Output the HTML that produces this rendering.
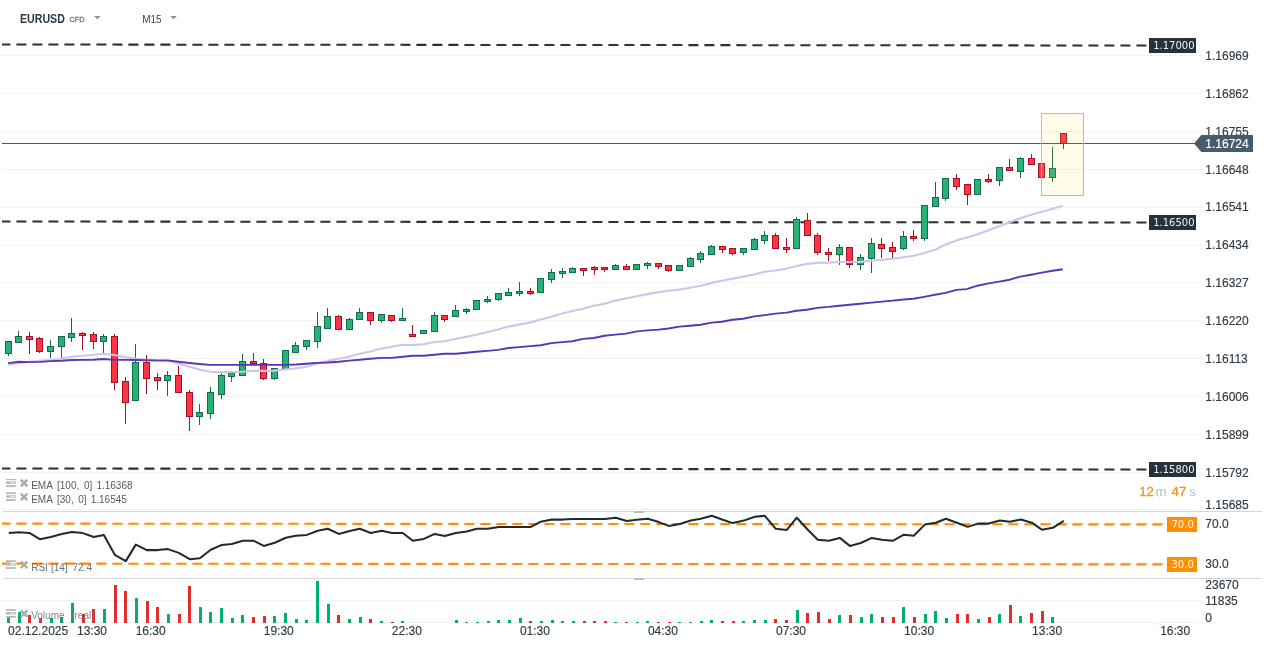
<!DOCTYPE html>
<html><head><meta charset="utf-8"><title>EURUSD M15</title>
<style>html,body{margin:0;padding:0;background:#fff;overflow:hidden}svg{display:block;will-change:transform;opacity:0.999}</style></head>
<body>
<svg width="1264" height="647" viewBox="0 0 1264 647" font-family="'Liberation Sans', Arial, sans-serif">
<rect width="1264" height="647" fill="#fff"/>
<g shape-rendering="crispEdges" fill="#f0f2f4">
<rect x="2" y="55" width="1201" height="1"/>
<rect x="2" y="93" width="1201" height="1"/>
<rect x="2" y="131" width="1201" height="1"/>
<rect x="2" y="169" width="1201" height="1"/>
<rect x="2" y="207" width="1201" height="1"/>
<rect x="2" y="245" width="1201" height="1"/>
<rect x="2" y="282" width="1201" height="1"/>
<rect x="2" y="320" width="1201" height="1"/>
<rect x="2" y="358" width="1201" height="1"/>
<rect x="2" y="396" width="1201" height="1"/>
<rect x="2" y="434" width="1201" height="1"/>
<rect x="2" y="472" width="1201" height="1"/>
<rect x="2" y="509" width="1195" height="1"/>
<rect x="2" y="523" width="1201" height="1"/>
<rect x="2" y="563" width="1201" height="1"/>
<rect x="2" y="600" width="1201" height="1"/>
<rect x="2" y="622" width="1195" height="1"/>
</g>
<g shape-rendering="crispEdges" fill="#d4d6d8">
<rect x="3" y="511" width="1259" height="1"/>
<rect x="3" y="578" width="1259" height="1"/>
</g>
<rect x="634" y="511" width="10" height="2" fill="#bdbdbd"/>
<rect x="634" y="578" width="10" height="2" fill="#bdbdbd"/>
<clipPath id="cp"><rect x="2" y="0" width="1201" height="647"/></clipPath>
<g clip-path="url(#cp)">
<line x1="0.4" y1="44.5" x2="1147" y2="45.5" stroke="#25323b" stroke-width="2.05" stroke-dasharray="10 6"/>
<line x1="0.4" y1="221.5" x2="1147" y2="222.5" stroke="#25323b" stroke-width="2.05" stroke-dasharray="10 6"/>
<line x1="0.4" y1="468.5" x2="1147" y2="469.5" stroke="#25323b" stroke-width="2.05" stroke-dasharray="10 6"/>
</g>
<rect x="2" y="143" width="1200" height="1" fill="#425766" shape-rendering="crispEdges"/>
<g shape-rendering="crispEdges">
<rect x="8.0" y="354" width="1" height="2" fill="#146d49"/>
<rect x="5.0" y="341" width="7" height="13" fill="#146d49"/>
<rect x="6.0" y="342" width="5" height="11" fill="#28b176"/>
<rect x="18.0" y="331" width="1" height="5" fill="#146d49"/>
<rect x="15.0" y="336" width="7" height="7" fill="#146d49"/>
<rect x="16.0" y="337" width="5" height="5" fill="#28b176"/>
<rect x="29.0" y="332" width="1" height="4" fill="#a51224"/>
<rect x="29.0" y="340" width="1" height="14" fill="#a51224"/>
<rect x="26.0" y="336" width="7" height="4" fill="#a51224"/>
<rect x="27.0" y="337" width="5" height="2" fill="#ff3347"/>
<rect x="39.0" y="337" width="1" height="1" fill="#a51224"/>
<rect x="39.0" y="352" width="1" height="1" fill="#a51224"/>
<rect x="36.0" y="338" width="7" height="14" fill="#a51224"/>
<rect x="37.0" y="339" width="5" height="12" fill="#ff3347"/>
<rect x="50.0" y="340" width="1" height="6" fill="#146d49"/>
<rect x="50.0" y="352" width="1" height="6" fill="#146d49"/>
<rect x="47.0" y="346" width="7" height="6" fill="#146d49"/>
<rect x="48.0" y="347" width="5" height="4" fill="#28b176"/>
<rect x="61.0" y="347" width="1" height="11" fill="#146d49"/>
<rect x="58.0" y="336" width="7" height="11" fill="#146d49"/>
<rect x="59.0" y="337" width="5" height="9" fill="#28b176"/>
<rect x="71.0" y="318" width="1" height="15" fill="#146d49"/>
<rect x="71.0" y="338" width="1" height="4" fill="#146d49"/>
<rect x="68.0" y="333" width="7" height="5" fill="#146d49"/>
<rect x="69.0" y="334" width="5" height="3" fill="#28b176"/>
<rect x="82.0" y="332" width="1" height="1" fill="#a51224"/>
<rect x="82.0" y="336" width="1" height="14" fill="#a51224"/>
<rect x="79.0" y="333" width="7" height="3" fill="#a51224"/>
<rect x="80.0" y="334" width="5" height="1" fill="#ff3347"/>
<rect x="93.0" y="332" width="1" height="2" fill="#a51224"/>
<rect x="93.0" y="342" width="1" height="7" fill="#a51224"/>
<rect x="90.0" y="334" width="7" height="8" fill="#a51224"/>
<rect x="91.0" y="335" width="5" height="6" fill="#ff3347"/>
<rect x="103.0" y="334" width="1" height="2" fill="#146d49"/>
<rect x="103.0" y="342" width="1" height="11" fill="#146d49"/>
<rect x="100.0" y="336" width="7" height="6" fill="#146d49"/>
<rect x="101.0" y="337" width="5" height="4" fill="#28b176"/>
<rect x="114.0" y="334" width="1" height="2" fill="#a51224"/>
<rect x="114.0" y="383" width="1" height="7" fill="#a51224"/>
<rect x="111.0" y="336" width="7" height="47" fill="#a51224"/>
<rect x="112.0" y="337" width="5" height="45" fill="#ff3347"/>
<rect x="125.0" y="377" width="1" height="4" fill="#a51224"/>
<rect x="125.0" y="403" width="1" height="21" fill="#a51224"/>
<rect x="122.0" y="381" width="7" height="22" fill="#a51224"/>
<rect x="123.0" y="382" width="5" height="20" fill="#ff3347"/>
<rect x="135.0" y="344" width="1" height="18" fill="#146d49"/>
<rect x="132.0" y="362" width="7" height="39" fill="#146d49"/>
<rect x="133.0" y="363" width="5" height="37" fill="#28b176"/>
<rect x="146.0" y="355" width="1" height="7" fill="#a51224"/>
<rect x="146.0" y="379" width="1" height="15" fill="#a51224"/>
<rect x="143.0" y="362" width="7" height="17" fill="#a51224"/>
<rect x="144.0" y="363" width="5" height="15" fill="#ff3347"/>
<rect x="157.0" y="373" width="1" height="4" fill="#a51224"/>
<rect x="157.0" y="381" width="1" height="9" fill="#a51224"/>
<rect x="154.0" y="377" width="7" height="4" fill="#a51224"/>
<rect x="155.0" y="378" width="5" height="2" fill="#ff3347"/>
<rect x="167.0" y="371" width="1" height="4" fill="#146d49"/>
<rect x="167.0" y="381" width="1" height="15" fill="#146d49"/>
<rect x="164.0" y="375" width="7" height="6" fill="#146d49"/>
<rect x="165.0" y="376" width="5" height="4" fill="#28b176"/>
<rect x="178.0" y="366" width="1" height="9" fill="#a51224"/>
<rect x="175.0" y="375" width="7" height="18" fill="#a51224"/>
<rect x="176.0" y="376" width="5" height="16" fill="#ff3347"/>
<rect x="189.0" y="390" width="1" height="2" fill="#a51224"/>
<rect x="189.0" y="417" width="1" height="14" fill="#a51224"/>
<rect x="186.0" y="392" width="7" height="25" fill="#a51224"/>
<rect x="187.0" y="393" width="5" height="23" fill="#ff3347"/>
<rect x="199.0" y="404" width="1" height="8" fill="#146d49"/>
<rect x="199.0" y="417" width="1" height="8" fill="#146d49"/>
<rect x="196.0" y="412" width="7" height="5" fill="#146d49"/>
<rect x="197.0" y="413" width="5" height="3" fill="#28b176"/>
<rect x="210.0" y="387" width="1" height="5" fill="#146d49"/>
<rect x="210.0" y="414" width="1" height="5" fill="#146d49"/>
<rect x="207.0" y="392" width="7" height="22" fill="#146d49"/>
<rect x="208.0" y="393" width="5" height="20" fill="#28b176"/>
<rect x="221.0" y="373" width="1" height="2" fill="#146d49"/>
<rect x="221.0" y="395" width="1" height="4" fill="#146d49"/>
<rect x="218.0" y="375" width="7" height="20" fill="#146d49"/>
<rect x="219.0" y="376" width="5" height="18" fill="#28b176"/>
<rect x="231.0" y="377" width="1" height="5" fill="#146d49"/>
<rect x="228.0" y="373" width="7" height="4" fill="#146d49"/>
<rect x="229.0" y="374" width="5" height="2" fill="#28b176"/>
<rect x="242.0" y="354" width="1" height="7" fill="#146d49"/>
<rect x="239.0" y="361" width="7" height="15" fill="#146d49"/>
<rect x="240.0" y="362" width="5" height="13" fill="#28b176"/>
<rect x="253.0" y="353" width="1" height="8" fill="#a51224"/>
<rect x="250.0" y="361" width="7" height="3" fill="#a51224"/>
<rect x="251.0" y="362" width="5" height="1" fill="#ff3347"/>
<rect x="263.0" y="359" width="1" height="4" fill="#a51224"/>
<rect x="263.0" y="379" width="1" height="1" fill="#a51224"/>
<rect x="260.0" y="363" width="7" height="16" fill="#a51224"/>
<rect x="261.0" y="364" width="5" height="14" fill="#ff3347"/>
<rect x="274.0" y="379" width="1" height="1" fill="#146d49"/>
<rect x="271.0" y="368" width="7" height="11" fill="#146d49"/>
<rect x="272.0" y="369" width="5" height="9" fill="#28b176"/>
<rect x="282.0" y="350" width="7" height="19" fill="#146d49"/>
<rect x="283.0" y="351" width="5" height="17" fill="#28b176"/>
<rect x="295.0" y="342" width="1" height="3" fill="#146d49"/>
<rect x="292.0" y="345" width="7" height="8" fill="#146d49"/>
<rect x="293.0" y="346" width="5" height="6" fill="#28b176"/>
<rect x="306.0" y="347" width="1" height="3" fill="#146d49"/>
<rect x="303.0" y="340" width="7" height="7" fill="#146d49"/>
<rect x="304.0" y="341" width="5" height="5" fill="#28b176"/>
<rect x="317.0" y="312" width="1" height="14" fill="#146d49"/>
<rect x="317.0" y="342" width="1" height="6" fill="#146d49"/>
<rect x="314.0" y="326" width="7" height="16" fill="#146d49"/>
<rect x="315.0" y="327" width="5" height="14" fill="#28b176"/>
<rect x="327.0" y="308" width="1" height="8" fill="#146d49"/>
<rect x="324.0" y="316" width="7" height="13" fill="#146d49"/>
<rect x="325.0" y="317" width="5" height="11" fill="#28b176"/>
<rect x="338.0" y="315" width="1" height="1" fill="#a51224"/>
<rect x="335.0" y="316" width="7" height="14" fill="#a51224"/>
<rect x="336.0" y="317" width="5" height="12" fill="#ff3347"/>
<rect x="349.0" y="318" width="1" height="1" fill="#146d49"/>
<rect x="346.0" y="319" width="7" height="11" fill="#146d49"/>
<rect x="347.0" y="320" width="5" height="9" fill="#28b176"/>
<rect x="359.0" y="308" width="1" height="4" fill="#146d49"/>
<rect x="356.0" y="312" width="7" height="8" fill="#146d49"/>
<rect x="357.0" y="313" width="5" height="6" fill="#28b176"/>
<rect x="370.0" y="321" width="1" height="4" fill="#a51224"/>
<rect x="367.0" y="312" width="7" height="9" fill="#a51224"/>
<rect x="368.0" y="313" width="5" height="7" fill="#ff3347"/>
<rect x="381.0" y="321" width="1" height="2" fill="#146d49"/>
<rect x="378.0" y="314" width="7" height="7" fill="#146d49"/>
<rect x="379.0" y="315" width="5" height="5" fill="#28b176"/>
<rect x="391.0" y="321" width="1" height="1" fill="#a51224"/>
<rect x="388.0" y="315" width="7" height="6" fill="#a51224"/>
<rect x="389.0" y="316" width="5" height="4" fill="#ff3347"/>
<rect x="402.0" y="308" width="1" height="10" fill="#146d49"/>
<rect x="399.0" y="318" width="7" height="3" fill="#146d49"/>
<rect x="400.0" y="319" width="5" height="1" fill="#28b176"/>
<rect x="412.0" y="325" width="1" height="9" fill="#a51224"/>
<rect x="409.0" y="334" width="7" height="3" fill="#a51224"/>
<rect x="410.0" y="335" width="5" height="1" fill="#ff3347"/>
<rect x="420.0" y="330" width="7" height="4" fill="#146d49"/>
<rect x="421.0" y="331" width="5" height="2" fill="#28b176"/>
<rect x="434.0" y="312" width="1" height="3" fill="#146d49"/>
<rect x="431.0" y="315" width="7" height="17" fill="#146d49"/>
<rect x="432.0" y="316" width="5" height="15" fill="#28b176"/>
<rect x="444.0" y="320" width="1" height="2" fill="#a51224"/>
<rect x="441.0" y="315" width="7" height="5" fill="#a51224"/>
<rect x="442.0" y="316" width="5" height="3" fill="#ff3347"/>
<rect x="455.0" y="305" width="1" height="5" fill="#146d49"/>
<rect x="452.0" y="310" width="7" height="7" fill="#146d49"/>
<rect x="453.0" y="311" width="5" height="5" fill="#28b176"/>
<rect x="466.0" y="308" width="1" height="1" fill="#146d49"/>
<rect x="466.0" y="312" width="1" height="2" fill="#146d49"/>
<rect x="463.0" y="309" width="7" height="3" fill="#146d49"/>
<rect x="464.0" y="310" width="5" height="1" fill="#28b176"/>
<rect x="473.0" y="300" width="7" height="10" fill="#146d49"/>
<rect x="474.0" y="301" width="5" height="8" fill="#28b176"/>
<rect x="487.0" y="296" width="1" height="3" fill="#146d49"/>
<rect x="487.0" y="302" width="1" height="1" fill="#146d49"/>
<rect x="484.0" y="299" width="7" height="3" fill="#146d49"/>
<rect x="485.0" y="300" width="5" height="1" fill="#28b176"/>
<rect x="498.0" y="300" width="1" height="1" fill="#146d49"/>
<rect x="495.0" y="293" width="7" height="7" fill="#146d49"/>
<rect x="496.0" y="294" width="5" height="5" fill="#28b176"/>
<rect x="508.0" y="288" width="1" height="4" fill="#146d49"/>
<rect x="505.0" y="292" width="7" height="4" fill="#146d49"/>
<rect x="506.0" y="293" width="5" height="2" fill="#28b176"/>
<rect x="519.0" y="282" width="1" height="9" fill="#146d49"/>
<rect x="519.0" y="294" width="1" height="2" fill="#146d49"/>
<rect x="516.0" y="291" width="7" height="3" fill="#146d49"/>
<rect x="517.0" y="292" width="5" height="1" fill="#28b176"/>
<rect x="530.0" y="288" width="1" height="3" fill="#a51224"/>
<rect x="530.0" y="294" width="1" height="1" fill="#a51224"/>
<rect x="527.0" y="291" width="7" height="3" fill="#a51224"/>
<rect x="528.0" y="292" width="5" height="1" fill="#ff3347"/>
<rect x="537.0" y="278" width="7" height="15" fill="#146d49"/>
<rect x="538.0" y="279" width="5" height="13" fill="#28b176"/>
<rect x="551.0" y="269" width="1" height="3" fill="#146d49"/>
<rect x="551.0" y="280" width="1" height="3" fill="#146d49"/>
<rect x="548.0" y="272" width="7" height="8" fill="#146d49"/>
<rect x="549.0" y="273" width="5" height="6" fill="#28b176"/>
<rect x="562.0" y="268" width="1" height="3" fill="#146d49"/>
<rect x="562.0" y="274" width="1" height="4" fill="#146d49"/>
<rect x="559.0" y="271" width="7" height="3" fill="#146d49"/>
<rect x="560.0" y="272" width="5" height="1" fill="#28b176"/>
<rect x="572.0" y="267" width="1" height="1" fill="#146d49"/>
<rect x="569.0" y="268" width="7" height="5" fill="#146d49"/>
<rect x="570.0" y="269" width="5" height="3" fill="#28b176"/>
<rect x="583.0" y="271" width="1" height="5" fill="#a51224"/>
<rect x="580.0" y="268" width="7" height="3" fill="#a51224"/>
<rect x="581.0" y="269" width="5" height="1" fill="#ff3347"/>
<rect x="594.0" y="266" width="1" height="1" fill="#a51224"/>
<rect x="594.0" y="270" width="1" height="5" fill="#a51224"/>
<rect x="591.0" y="267" width="7" height="3" fill="#a51224"/>
<rect x="592.0" y="268" width="5" height="1" fill="#ff3347"/>
<rect x="604.0" y="270" width="1" height="2" fill="#a51224"/>
<rect x="601.0" y="267" width="7" height="3" fill="#a51224"/>
<rect x="602.0" y="268" width="5" height="1" fill="#ff3347"/>
<rect x="615.0" y="264" width="1" height="1" fill="#146d49"/>
<rect x="612.0" y="265" width="7" height="5" fill="#146d49"/>
<rect x="613.0" y="266" width="5" height="3" fill="#28b176"/>
<rect x="626.0" y="264" width="1" height="2" fill="#a51224"/>
<rect x="623.0" y="266" width="7" height="4" fill="#a51224"/>
<rect x="624.0" y="267" width="5" height="2" fill="#ff3347"/>
<rect x="633.0" y="264" width="7" height="6" fill="#146d49"/>
<rect x="634.0" y="265" width="5" height="4" fill="#28b176"/>
<rect x="647.0" y="262" width="1" height="1" fill="#146d49"/>
<rect x="647.0" y="266" width="1" height="3" fill="#146d49"/>
<rect x="644.0" y="263" width="7" height="3" fill="#146d49"/>
<rect x="645.0" y="264" width="5" height="1" fill="#28b176"/>
<rect x="658.0" y="267" width="1" height="2" fill="#a51224"/>
<rect x="655.0" y="263" width="7" height="4" fill="#a51224"/>
<rect x="656.0" y="264" width="5" height="2" fill="#ff3347"/>
<rect x="668.0" y="271" width="1" height="1" fill="#a51224"/>
<rect x="665.0" y="265" width="7" height="6" fill="#a51224"/>
<rect x="666.0" y="266" width="5" height="4" fill="#ff3347"/>
<rect x="676.0" y="265" width="7" height="6" fill="#146d49"/>
<rect x="677.0" y="266" width="5" height="4" fill="#28b176"/>
<rect x="690.0" y="257" width="1" height="1" fill="#146d49"/>
<rect x="687.0" y="258" width="7" height="9" fill="#146d49"/>
<rect x="688.0" y="259" width="5" height="7" fill="#28b176"/>
<rect x="700.0" y="251" width="1" height="2" fill="#146d49"/>
<rect x="700.0" y="260" width="1" height="3" fill="#146d49"/>
<rect x="697.0" y="253" width="7" height="7" fill="#146d49"/>
<rect x="698.0" y="254" width="5" height="5" fill="#28b176"/>
<rect x="711.0" y="245" width="1" height="1" fill="#146d49"/>
<rect x="708.0" y="246" width="7" height="9" fill="#146d49"/>
<rect x="709.0" y="247" width="5" height="7" fill="#28b176"/>
<rect x="722.0" y="250" width="1" height="3" fill="#a51224"/>
<rect x="719.0" y="246" width="7" height="4" fill="#a51224"/>
<rect x="720.0" y="247" width="5" height="2" fill="#ff3347"/>
<rect x="732.0" y="254" width="1" height="1" fill="#a51224"/>
<rect x="729.0" y="248" width="7" height="6" fill="#a51224"/>
<rect x="730.0" y="249" width="5" height="4" fill="#ff3347"/>
<rect x="743.0" y="253" width="1" height="2" fill="#146d49"/>
<rect x="740.0" y="248" width="7" height="5" fill="#146d49"/>
<rect x="741.0" y="249" width="5" height="3" fill="#28b176"/>
<rect x="754.0" y="238" width="1" height="1" fill="#146d49"/>
<rect x="751.0" y="239" width="7" height="11" fill="#146d49"/>
<rect x="752.0" y="240" width="5" height="9" fill="#28b176"/>
<rect x="764.0" y="231" width="1" height="4" fill="#146d49"/>
<rect x="764.0" y="241" width="1" height="3" fill="#146d49"/>
<rect x="761.0" y="235" width="7" height="6" fill="#146d49"/>
<rect x="762.0" y="236" width="5" height="4" fill="#28b176"/>
<rect x="775.0" y="233" width="1" height="2" fill="#a51224"/>
<rect x="772.0" y="235" width="7" height="14" fill="#a51224"/>
<rect x="773.0" y="236" width="5" height="12" fill="#ff3347"/>
<rect x="786.0" y="238" width="1" height="9" fill="#a51224"/>
<rect x="786.0" y="250" width="1" height="3" fill="#a51224"/>
<rect x="783.0" y="247" width="7" height="3" fill="#a51224"/>
<rect x="784.0" y="248" width="5" height="1" fill="#ff3347"/>
<rect x="796.0" y="217" width="1" height="2" fill="#146d49"/>
<rect x="793.0" y="219" width="7" height="30" fill="#146d49"/>
<rect x="794.0" y="220" width="5" height="28" fill="#28b176"/>
<rect x="807.0" y="213" width="1" height="7" fill="#a51224"/>
<rect x="804.0" y="220" width="7" height="16" fill="#a51224"/>
<rect x="805.0" y="221" width="5" height="14" fill="#ff3347"/>
<rect x="817.0" y="233" width="1" height="2" fill="#a51224"/>
<rect x="817.0" y="253" width="1" height="2" fill="#a51224"/>
<rect x="814.0" y="235" width="7" height="18" fill="#a51224"/>
<rect x="815.0" y="236" width="5" height="16" fill="#ff3347"/>
<rect x="828.0" y="248" width="1" height="4" fill="#a51224"/>
<rect x="828.0" y="255" width="1" height="6" fill="#a51224"/>
<rect x="825.0" y="252" width="7" height="3" fill="#a51224"/>
<rect x="826.0" y="253" width="5" height="1" fill="#ff3347"/>
<rect x="839.0" y="244" width="1" height="3" fill="#146d49"/>
<rect x="839.0" y="255" width="1" height="10" fill="#146d49"/>
<rect x="836.0" y="247" width="7" height="8" fill="#146d49"/>
<rect x="837.0" y="248" width="5" height="6" fill="#28b176"/>
<rect x="849.0" y="265" width="1" height="3" fill="#a51224"/>
<rect x="846.0" y="247" width="7" height="18" fill="#a51224"/>
<rect x="847.0" y="248" width="5" height="16" fill="#ff3347"/>
<rect x="860.0" y="254" width="1" height="3" fill="#146d49"/>
<rect x="860.0" y="265" width="1" height="5" fill="#146d49"/>
<rect x="857.0" y="257" width="7" height="8" fill="#146d49"/>
<rect x="858.0" y="258" width="5" height="6" fill="#28b176"/>
<rect x="871.0" y="238" width="1" height="5" fill="#146d49"/>
<rect x="871.0" y="259" width="1" height="14" fill="#146d49"/>
<rect x="868.0" y="243" width="7" height="16" fill="#146d49"/>
<rect x="869.0" y="244" width="5" height="14" fill="#28b176"/>
<rect x="881.0" y="238" width="1" height="6" fill="#a51224"/>
<rect x="881.0" y="249" width="1" height="9" fill="#a51224"/>
<rect x="878.0" y="244" width="7" height="5" fill="#a51224"/>
<rect x="879.0" y="245" width="5" height="3" fill="#ff3347"/>
<rect x="892.0" y="242" width="1" height="5" fill="#a51224"/>
<rect x="892.0" y="252" width="1" height="6" fill="#a51224"/>
<rect x="889.0" y="247" width="7" height="5" fill="#a51224"/>
<rect x="890.0" y="248" width="5" height="3" fill="#ff3347"/>
<rect x="903.0" y="231" width="1" height="5" fill="#146d49"/>
<rect x="903.0" y="249" width="1" height="1" fill="#146d49"/>
<rect x="900.0" y="236" width="7" height="13" fill="#146d49"/>
<rect x="901.0" y="237" width="5" height="11" fill="#28b176"/>
<rect x="913.0" y="230" width="1" height="6" fill="#a51224"/>
<rect x="913.0" y="239" width="1" height="2" fill="#a51224"/>
<rect x="910.0" y="236" width="7" height="3" fill="#a51224"/>
<rect x="911.0" y="237" width="5" height="1" fill="#ff3347"/>
<rect x="924.0" y="239" width="1" height="2" fill="#146d49"/>
<rect x="921.0" y="205" width="7" height="34" fill="#146d49"/>
<rect x="922.0" y="206" width="5" height="32" fill="#28b176"/>
<rect x="935.0" y="182" width="1" height="15" fill="#146d49"/>
<rect x="932.0" y="197" width="7" height="10" fill="#146d49"/>
<rect x="933.0" y="198" width="5" height="8" fill="#28b176"/>
<rect x="945.0" y="199" width="1" height="2" fill="#146d49"/>
<rect x="942.0" y="178" width="7" height="21" fill="#146d49"/>
<rect x="943.0" y="179" width="5" height="19" fill="#28b176"/>
<rect x="956.0" y="174" width="1" height="4" fill="#a51224"/>
<rect x="956.0" y="187" width="1" height="3" fill="#a51224"/>
<rect x="953.0" y="178" width="7" height="9" fill="#a51224"/>
<rect x="954.0" y="179" width="5" height="7" fill="#ff3347"/>
<rect x="967.0" y="195" width="1" height="10" fill="#a51224"/>
<rect x="964.0" y="184" width="7" height="11" fill="#a51224"/>
<rect x="965.0" y="185" width="5" height="9" fill="#ff3347"/>
<rect x="974.0" y="179" width="7" height="16" fill="#146d49"/>
<rect x="975.0" y="180" width="5" height="14" fill="#28b176"/>
<rect x="988.0" y="174" width="1" height="5" fill="#a51224"/>
<rect x="988.0" y="182" width="1" height="1" fill="#a51224"/>
<rect x="985.0" y="179" width="7" height="3" fill="#a51224"/>
<rect x="986.0" y="180" width="5" height="1" fill="#ff3347"/>
<rect x="999.0" y="181" width="1" height="5" fill="#146d49"/>
<rect x="996.0" y="167" width="7" height="14" fill="#146d49"/>
<rect x="997.0" y="168" width="5" height="12" fill="#28b176"/>
<rect x="1009.0" y="159" width="1" height="8" fill="#a51224"/>
<rect x="1006.0" y="167" width="7" height="4" fill="#a51224"/>
<rect x="1007.0" y="168" width="5" height="2" fill="#ff3347"/>
<rect x="1020.0" y="157" width="1" height="1" fill="#146d49"/>
<rect x="1020.0" y="172" width="1" height="6" fill="#146d49"/>
<rect x="1017.0" y="158" width="7" height="14" fill="#146d49"/>
<rect x="1018.0" y="159" width="5" height="12" fill="#28b176"/>
<rect x="1031.0" y="154" width="1" height="4" fill="#a51224"/>
<rect x="1028.0" y="158" width="7" height="7" fill="#a51224"/>
<rect x="1029.0" y="159" width="5" height="5" fill="#ff3347"/>
<rect x="1038.0" y="163" width="7" height="15" fill="#a51224"/>
<rect x="1039.0" y="164" width="5" height="13" fill="#ff3347"/>
<rect x="1052.0" y="147" width="1" height="21" fill="#146d49"/>
<rect x="1052.0" y="178" width="1" height="4" fill="#146d49"/>
<rect x="1049.0" y="168" width="7" height="10" fill="#146d49"/>
<rect x="1050.0" y="169" width="5" height="8" fill="#28b176"/>
<rect x="1063.0" y="144" width="1" height="5" fill="#a51224"/>
<rect x="1060.0" y="133" width="7" height="11" fill="#a51224"/>
<rect x="1061.0" y="134" width="5" height="9" fill="#ff3347"/>
</g>
<polyline points="8.2,364.7 19.0,363.2 29.2,361.8 40.6,360.9 50.7,360.0 61.5,358.8 71.6,356.7 82.4,355.7 93.2,354.8 103.3,353.7 114.1,355.0 124.9,357.1 135.7,358.8 146.4,360.0 157.6,360.8 167.7,361.1 178.5,363.6 189.3,366.8 199.4,369.6 210.2,371.8 221.6,372.1 231.1,372.1 242.6,371.8 253.3,370.8 263.5,370.9 274.2,370.6 285.7,369.3 295.8,368.4 306.4,366.7 317.1,363.8 327.9,360.9 338.7,358.7 349.4,356.6 359.6,353.7 370.4,351.5 381.1,348.6 391.9,346.7 402.7,344.8 412.8,345.1 423.6,344.2 434.4,342.0 444.5,341.2 455.5,339.0 466.5,336.7 476.6,334.8 487.4,331.9 498.2,329.4 508.3,326.6 519.1,324.6 530.5,322.4 540.7,319.5 551.4,316.7 562.2,313.5 572.3,311.0 583.1,308.8 593.9,305.7 604.5,303.7 615.2,300.6 626.0,298.5 636.8,296.2 647.5,294.1 658.3,292.1 668.5,290.8 679.2,289.6 690.0,287.7 700.8,285.7 711.6,282.9 721.7,280.7 732.5,278.7 743.3,276.6 754.2,274.5 764.6,271.8 775.4,270.5 786.8,268.6 796.3,266.1 807.0,263.9 817.2,262.9 828.6,262.6 839.4,262.0 849.5,262.0 860.3,261.9 871.7,260.7 881.9,259.7 892.6,258.7 903.4,257.2 913.7,255.8 924.5,252.9 935.3,249.8 946.0,244.4 956.8,240.3 966.9,237.4 977.6,234.3 989.1,229.9 999.1,226.2 1009.9,222.2 1020.7,217.9 1031.4,214.8 1042.2,211.8 1052.9,208.7 1062.6,205.8" fill="none" stroke="#cfc4ea" stroke-width="2.1" stroke-linejoin="round" stroke-linecap="butt"/>
<polyline points="8.2,363.1 19.0,361.8 29.2,362.1 40.6,361.9 50.7,361.1 61.5,360.7 71.6,360.0 82.4,359.9 93.2,359.8 103.3,359.0 114.1,359.9 124.9,359.9 135.7,360.0 146.4,360.3 157.6,360.4 167.7,360.4 178.5,361.7 189.3,363.0 199.4,364.0 210.2,364.9 221.6,364.9 231.1,364.9 242.6,364.9 253.3,364.9 263.5,364.7 274.2,364.9 285.7,364.9 295.8,364.5 306.3,363.8 317.1,362.9 327.9,362.5 338.7,361.7 349.4,360.6 359.6,359.8 370.4,358.7 381.1,357.9 391.9,357.9 402.7,356.8 412.8,355.8 423.6,355.8 434.4,354.7 444.5,353.7 455.5,353.7 466.5,352.8 476.6,351.8 487.4,350.9 498.2,349.9 508.3,348.0 519.1,347.1 530.5,346.1 540.7,345.2 551.4,343.1 562.2,342.1 572.3,341.2 583.1,338.9 593.9,338.0 604.5,335.8 615.2,334.6 626.0,333.6 636.8,331.4 647.5,330.4 658.3,329.6 668.5,328.5 679.2,326.6 690.0,325.7 700.8,324.7 711.6,322.6 721.7,321.8 732.5,319.7 743.3,318.8 754.2,316.4 764.6,315.1 775.4,313.6 786.8,312.6 796.3,310.8 807.0,309.8 817.2,307.9 828.6,306.9 839.4,305.7 849.5,304.7 860.3,303.7 871.7,302.6 881.9,301.6 892.6,300.6 903.4,299.5 913.3,298.8 924.1,296.9 934.9,294.8 945.6,292.9 956.4,289.9 966.6,289.1 977.4,285.7 988.6,283.4 999.0,281.6 1009.8,279.7 1020.2,276.6 1031.0,274.7 1041.8,272.6 1052.5,270.8 1062.8,269.2" fill="none" stroke="#5a36b4" stroke-width="1.9" stroke-linejoin="round" stroke-linecap="butt"/>
<rect x="1041.5" y="113.5" width="42" height="82" fill="rgba(255,225,45,0.10)" stroke="#f5b829" stroke-width="1"/>
<g clip-path="url(#cp)">
<line x1="0.4" y1="523.6" x2="1166" y2="524.4" stroke="#ff8f00" stroke-width="2.1" stroke-dasharray="10 6"/>
<line x1="0.4" y1="563.6" x2="1166" y2="564.4" stroke="#ff8f00" stroke-width="2.1" stroke-dasharray="10 6"/>
</g>
<polyline points="8.8,533.1 18.8,532.2 29.8,533.1 39.8,539.2 50.8,537.0 61.8,533.9 71.8,532.0 82.8,533.1 93.8,537.0 103.8,534.9 114.8,554.8 125.8,561.1 135.8,544.6 146.8,550.1 157.8,550.1 167.8,549.1 178.8,552.9 189.8,559.2 199.8,558.3 210.8,549.7 221.8,544.9 231.8,544.0 242.8,540.8 253.8,540.8 263.8,545.9 274.8,542.7 285.8,537.7 295.8,535.8 306.8,534.9 317.8,530.7 327.8,528.8 338.8,533.9 349.8,530.9 359.8,528.8 370.8,533.0 381.8,530.7 391.8,533.0 402.8,533.0 412.8,540.8 423.8,538.9 434.8,533.9 444.8,536.0 455.8,533.0 466.8,531.6 476.8,528.8 487.8,528.8 498.8,526.9 508.8,526.9 519.8,526.9 530.8,526.9 540.8,521.7 551.8,519.6 562.8,519.6 572.8,518.9 583.8,518.9 594.8,518.9 604.8,518.9 615.8,517.7 626.8,521.0 636.8,519.8 647.8,518.7 658.8,522.1 668.8,525.9 679.8,524.0 690.8,520.6 700.8,518.7 711.8,515.8 722.8,519.8 732.8,523.1 743.8,520.6 754.8,516.8 764.8,515.8 775.8,528.8 786.8,529.9 796.8,517.7 807.8,529.7 817.8,539.8 828.8,540.8 839.8,537.9 849.8,545.9 860.8,543.0 871.8,537.9 881.8,539.8 892.8,540.8 903.8,534.7 913.8,535.8 924.8,524.6 935.8,522.7 945.8,518.7 956.8,522.7 967.8,526.9 977.8,523.6 988.8,523.6 999.8,520.6 1009.8,521.7 1020.8,519.6 1031.8,522.7 1041.8,529.7 1052.8,527.8 1063.8,520.8" fill="none" stroke="#1e2b33" stroke-width="2.05" stroke-linejoin="round" stroke-linecap="butt"/>
<g shape-rendering="crispEdges">
<rect x="7.0" y="617" width="3" height="6" fill="#00b06f"/>
<rect x="18.0" y="612" width="3" height="11" fill="#00b06f"/>
<rect x="28.0" y="615" width="3" height="8" fill="#e22d2d"/>
<rect x="39.0" y="618" width="3" height="5" fill="#e22d2d"/>
<rect x="50.0" y="618" width="3" height="5" fill="#00b06f"/>
<rect x="60.0" y="617" width="3" height="6" fill="#00b06f"/>
<rect x="71.0" y="603" width="3" height="20" fill="#00b06f"/>
<rect x="82.0" y="614" width="3" height="9" fill="#e22d2d"/>
<rect x="92.0" y="609" width="3" height="14" fill="#e22d2d"/>
<rect x="103.0" y="609" width="3" height="14" fill="#00b06f"/>
<rect x="114.0" y="585" width="3" height="38" fill="#e22d2d"/>
<rect x="124.0" y="591" width="3" height="32" fill="#e22d2d"/>
<rect x="135.0" y="598" width="3" height="25" fill="#00b06f"/>
<rect x="146.0" y="601" width="3" height="22" fill="#e22d2d"/>
<rect x="156.0" y="607" width="3" height="16" fill="#e22d2d"/>
<rect x="167.0" y="614" width="3" height="9" fill="#00b06f"/>
<rect x="178.0" y="614" width="3" height="9" fill="#e22d2d"/>
<rect x="188.0" y="586" width="3" height="37" fill="#e22d2d"/>
<rect x="199.0" y="607" width="3" height="16" fill="#00b06f"/>
<rect x="209.0" y="612" width="3" height="11" fill="#00b06f"/>
<rect x="220.0" y="608" width="3" height="15" fill="#00b06f"/>
<rect x="231.0" y="618" width="3" height="5" fill="#00b06f"/>
<rect x="241.0" y="615" width="3" height="8" fill="#00b06f"/>
<rect x="252.0" y="617" width="3" height="6" fill="#e22d2d"/>
<rect x="263.0" y="616" width="3" height="7" fill="#e22d2d"/>
<rect x="273.0" y="616" width="3" height="7" fill="#00b06f"/>
<rect x="284.0" y="613" width="3" height="10" fill="#00b06f"/>
<rect x="295.0" y="619" width="3" height="4" fill="#00b06f"/>
<rect x="305.0" y="620" width="3" height="3" fill="#00b06f"/>
<rect x="316.0" y="581" width="3" height="42" fill="#00b06f"/>
<rect x="327.0" y="604" width="3" height="19" fill="#00b06f"/>
<rect x="337.0" y="615" width="3" height="8" fill="#e22d2d"/>
<rect x="348.0" y="619" width="3" height="4" fill="#00b06f"/>
<rect x="359.0" y="617" width="3" height="6" fill="#00b06f"/>
<rect x="369.0" y="619" width="3" height="4" fill="#e22d2d"/>
<rect x="380.0" y="621" width="3" height="2" fill="#00b06f"/>
<rect x="391.0" y="622" width="3" height="1" fill="#e22d2d"/>
<rect x="401.0" y="621" width="3" height="2" fill="#00b06f"/>
<rect x="455.0" y="620" width="3" height="3" fill="#00b06f"/>
<rect x="465.0" y="622" width="3" height="1" fill="#00b06f"/>
<rect x="476.0" y="622" width="3" height="1" fill="#00b06f"/>
<rect x="487.0" y="621" width="3" height="2" fill="#00b06f"/>
<rect x="497.0" y="620" width="3" height="3" fill="#00b06f"/>
<rect x="508.0" y="620" width="3" height="3" fill="#00b06f"/>
<rect x="519.0" y="618" width="3" height="5" fill="#00b06f"/>
<rect x="529.0" y="621" width="3" height="2" fill="#e22d2d"/>
<rect x="540.0" y="621" width="3" height="2" fill="#00b06f"/>
<rect x="551.0" y="620" width="3" height="3" fill="#00b06f"/>
<rect x="561.0" y="621" width="3" height="2" fill="#00b06f"/>
<rect x="572.0" y="621" width="3" height="2" fill="#00b06f"/>
<rect x="583.0" y="621" width="3" height="2" fill="#e22d2d"/>
<rect x="593.0" y="621" width="3" height="2" fill="#e22d2d"/>
<rect x="604.0" y="621" width="3" height="2" fill="#e22d2d"/>
<rect x="614.0" y="622" width="3" height="1" fill="#00b06f"/>
<rect x="625.0" y="622" width="3" height="1" fill="#e22d2d"/>
<rect x="636.0" y="622" width="3" height="1" fill="#00b06f"/>
<rect x="646.0" y="621" width="3" height="2" fill="#00b06f"/>
<rect x="657.0" y="622" width="3" height="1" fill="#e22d2d"/>
<rect x="668.0" y="622" width="3" height="1" fill="#e22d2d"/>
<rect x="678.0" y="622" width="3" height="1" fill="#00b06f"/>
<rect x="689.0" y="622" width="3" height="1" fill="#00b06f"/>
<rect x="700.0" y="621" width="3" height="2" fill="#00b06f"/>
<rect x="710.0" y="620" width="3" height="3" fill="#00b06f"/>
<rect x="721.0" y="621" width="3" height="2" fill="#e22d2d"/>
<rect x="732.0" y="621" width="3" height="2" fill="#e22d2d"/>
<rect x="742.0" y="621" width="3" height="2" fill="#00b06f"/>
<rect x="753.0" y="620" width="3" height="3" fill="#00b06f"/>
<rect x="764.0" y="620" width="3" height="3" fill="#00b06f"/>
<rect x="774.0" y="619" width="3" height="4" fill="#e22d2d"/>
<rect x="785.0" y="620" width="3" height="3" fill="#e22d2d"/>
<rect x="796.0" y="610" width="3" height="13" fill="#00b06f"/>
<rect x="806.0" y="613" width="3" height="10" fill="#e22d2d"/>
<rect x="817.0" y="612" width="3" height="11" fill="#e22d2d"/>
<rect x="828.0" y="619" width="3" height="4" fill="#e22d2d"/>
<rect x="838.0" y="615" width="3" height="8" fill="#00b06f"/>
<rect x="849.0" y="615" width="3" height="8" fill="#e22d2d"/>
<rect x="860.0" y="617" width="3" height="6" fill="#00b06f"/>
<rect x="870.0" y="614" width="3" height="9" fill="#00b06f"/>
<rect x="881.0" y="617" width="3" height="6" fill="#e22d2d"/>
<rect x="892.0" y="617" width="3" height="6" fill="#e22d2d"/>
<rect x="902.0" y="607" width="3" height="16" fill="#00b06f"/>
<rect x="913.0" y="617" width="3" height="6" fill="#e22d2d"/>
<rect x="924.0" y="614" width="3" height="9" fill="#00b06f"/>
<rect x="934.0" y="611" width="3" height="12" fill="#00b06f"/>
<rect x="945.0" y="618" width="3" height="5" fill="#00b06f"/>
<rect x="956.0" y="614" width="3" height="9" fill="#e22d2d"/>
<rect x="966.0" y="614" width="3" height="9" fill="#e22d2d"/>
<rect x="977.0" y="619" width="3" height="4" fill="#00b06f"/>
<rect x="988.0" y="617" width="3" height="6" fill="#e22d2d"/>
<rect x="998.0" y="614" width="3" height="9" fill="#00b06f"/>
<rect x="1009.0" y="605" width="3" height="18" fill="#e22d2d"/>
<rect x="1019.0" y="616" width="3" height="7" fill="#00b06f"/>
<rect x="1030.0" y="613" width="3" height="10" fill="#e22d2d"/>
<rect x="1041.0" y="611" width="3" height="12" fill="#e22d2d"/>
<rect x="1051.0" y="617" width="3" height="6" fill="#00b06f"/>
</g>
<text x="1205.3" y="59.8" font-size="12" fill="#2e3b44" text-anchor="start" font-weight="normal" stroke="#2e3b44" stroke-width="0.15">1.16969</text>
<text x="1205.3" y="97.7" font-size="12" fill="#2e3b44" text-anchor="start" font-weight="normal" stroke="#2e3b44" stroke-width="0.15">1.16862</text>
<text x="1205.3" y="135.6" font-size="12" fill="#2e3b44" text-anchor="start" font-weight="normal" stroke="#2e3b44" stroke-width="0.15">1.16755</text>
<text x="1205.3" y="173.5" font-size="12" fill="#2e3b44" text-anchor="start" font-weight="normal" stroke="#2e3b44" stroke-width="0.15">1.16648</text>
<text x="1205.3" y="211.4" font-size="12" fill="#2e3b44" text-anchor="start" font-weight="normal" stroke="#2e3b44" stroke-width="0.15">1.16541</text>
<text x="1205.3" y="249.3" font-size="12" fill="#2e3b44" text-anchor="start" font-weight="normal" stroke="#2e3b44" stroke-width="0.15">1.16434</text>
<text x="1205.3" y="287.1" font-size="12" fill="#2e3b44" text-anchor="start" font-weight="normal" stroke="#2e3b44" stroke-width="0.15">1.16327</text>
<text x="1205.3" y="324.8" font-size="12" fill="#2e3b44" text-anchor="start" font-weight="normal" stroke="#2e3b44" stroke-width="0.15">1.16220</text>
<text x="1205.3" y="362.7" font-size="12" fill="#2e3b44" text-anchor="start" font-weight="normal" stroke="#2e3b44" stroke-width="0.15">1.16113</text>
<text x="1205.3" y="400.6" font-size="12" fill="#2e3b44" text-anchor="start" font-weight="normal" stroke="#2e3b44" stroke-width="0.15">1.16006</text>
<text x="1205.3" y="438.6" font-size="12" fill="#2e3b44" text-anchor="start" font-weight="normal" stroke="#2e3b44" stroke-width="0.15">1.15899</text>
<text x="1205.3" y="476.5" font-size="12" fill="#2e3b44" text-anchor="start" font-weight="normal" stroke="#2e3b44" stroke-width="0.15">1.15792</text>
<text x="1205.3" y="508.9" font-size="12" fill="#2e3b44" text-anchor="start" font-weight="normal" stroke="#2e3b44" stroke-width="0.15">1.15685</text>
<text x="1205.3" y="528" font-size="12" fill="#2e3b44" text-anchor="start" font-weight="normal" stroke="#2e3b44" stroke-width="0.15">70.0</text>
<text x="1205.3" y="568.4" font-size="12" fill="#2e3b44" text-anchor="start" font-weight="normal" stroke="#2e3b44" stroke-width="0.15">30.0</text>
<text x="1205.3" y="589" font-size="12" fill="#2e3b44" text-anchor="start" font-weight="normal" stroke="#2e3b44" stroke-width="0.15">23670</text>
<text x="1205.3" y="604.9" font-size="12" fill="#2e3b44" text-anchor="start" font-weight="normal" stroke="#2e3b44" stroke-width="0.15">11835</text>
<text x="1205.3" y="621.8" font-size="12" fill="#2e3b44" text-anchor="start" font-weight="normal" stroke="#2e3b44" stroke-width="0.15">0</text>
<rect x="1149" y="38" width="47" height="15" fill="#25323b" shape-rendering="crispEdges"/>
<text x="1153.2" y="48.7" font-size="10" fill="#fff" fill-opacity="0.93" font-family="'DejaVu Sans', Verdana, sans-serif">1.17000</text>
<rect x="1149" y="215" width="47" height="15" fill="#25323b" shape-rendering="crispEdges"/>
<text x="1153.2" y="225.7" font-size="10" fill="#fff" fill-opacity="0.93" font-family="'DejaVu Sans', Verdana, sans-serif">1.16500</text>
<rect x="1149" y="462" width="47" height="15" fill="#25323b" shape-rendering="crispEdges"/>
<text x="1153.2" y="472.7" font-size="10" fill="#fff" fill-opacity="0.93" font-family="'DejaVu Sans', Verdana, sans-serif">1.15800</text>
<rect x="1167" y="517" width="30" height="15" fill="#ff8f00" shape-rendering="crispEdges"/>
<text x="1171.5" y="527.7" font-size="10" fill="#fff" fill-opacity="0.93" font-family="'DejaVu Sans', Verdana, sans-serif">70.0</text>
<rect x="1167" y="557" width="30" height="15" fill="#ff8f00" shape-rendering="crispEdges"/>
<text x="1171.5" y="567.7" font-size="10" fill="#fff" fill-opacity="0.93" font-family="'DejaVu Sans', Verdana, sans-serif">30.0</text>
<polygon points="1194,143.5 1201.3,135 1253,135 1253,152 1201.3,152" fill="#475c6a"/>
<text x="1205.3" y="147.9" font-size="12" fill="#fff" text-anchor="start" font-weight="normal" stroke="#fff" stroke-width="0.18">1.16724</text>
<text y="495.6" font-size="13.2"><tspan x="1139.2" fill="#ff9100" stroke="#ff9100" stroke-width="0.3">12</tspan><tspan x="1155.4" fill="#b0bec5">m</tspan><tspan x="1171.6" fill="#ff9100" stroke="#ff9100" stroke-width="0.3">47</tspan><tspan x="1189.2" fill="#b0bec5">s</tspan></text>
<text x="8.1" y="635" font-size="12" fill="#2e3b44" text-anchor="start" font-weight="normal" stroke="#2e3b44" stroke-width="0.15">02.12.2025</text>
<text x="77.0" y="635" font-size="12" fill="#2e3b44" text-anchor="start" font-weight="normal" stroke="#2e3b44" stroke-width="0.15">13:30</text>
<text x="135.7" y="635" font-size="12" fill="#2e3b44" text-anchor="start" font-weight="normal" stroke="#2e3b44" stroke-width="0.15">16:30</text>
<text x="263.76" y="635" font-size="12" fill="#2e3b44" text-anchor="start" font-weight="normal" stroke="#2e3b44" stroke-width="0.15">19:30</text>
<text x="391.82" y="635" font-size="12" fill="#2e3b44" text-anchor="start" font-weight="normal" stroke="#2e3b44" stroke-width="0.15">22:30</text>
<text x="519.88" y="635" font-size="12" fill="#2e3b44" text-anchor="start" font-weight="normal" stroke="#2e3b44" stroke-width="0.15">01:30</text>
<text x="647.94" y="635" font-size="12" fill="#2e3b44" text-anchor="start" font-weight="normal" stroke="#2e3b44" stroke-width="0.15">04:30</text>
<text x="776.0" y="635" font-size="12" fill="#2e3b44" text-anchor="start" font-weight="normal" stroke="#2e3b44" stroke-width="0.15">07:30</text>
<text x="904.06" y="635" font-size="12" fill="#2e3b44" text-anchor="start" font-weight="normal" stroke="#2e3b44" stroke-width="0.15">10:30</text>
<text x="1032.1200000000001" y="635" font-size="12" fill="#2e3b44" text-anchor="start" font-weight="normal" stroke="#2e3b44" stroke-width="0.15">13:30</text>
<text x="1160.18" y="635" font-size="12" fill="#2e3b44" text-anchor="start" font-weight="normal" stroke="#2e3b44" stroke-width="0.15">16:30</text>
<rect x="1159" y="622" width="1" height="3" fill="#e4e6e8"/>
<text x="20" y="22.9" font-size="12" font-weight="bold" fill="#2a3a45" textLength="44.8" lengthAdjust="spacingAndGlyphs">EURUSD</text>
<text x="69.6" y="22" font-size="8" fill="#6b7277" stroke="#6b7277" stroke-width="0.3" textLength="15" lengthAdjust="spacingAndGlyphs">CFD</text>
<polygon points="94,16 100.6,16 97.3,19.3" fill="#8a8f93"/>
<text x="142.2" y="22.9" font-size="10.2" fill="#34444f" textLength="19.4" lengthAdjust="spacingAndGlyphs">M15</text>
<polygon points="170.3,16 176.9,16 173.6,19.3" fill="#8a8f93"/>
<rect x="6" y="479.0" width="10.1" height="1.2" fill="#bababa"/>
<rect x="6" y="481.4" width="10.1" height="2.4" fill="#bababa"/>
<rect x="6" y="485.2" width="10.1" height="1.9" fill="#bababa"/>
<rect x="11" y="482.1" width="4" height="1" fill="#ececec"/>
<rect x="14" y="478.3" width="1" height="1" fill="#e4e4e4"/>
<rect x="14" y="486.1" width="1" height="1" fill="#e4e4e4"/>
<path d="M20.80 479.75L27.30 486.25M27.30 479.75L20.80 486.25" stroke="#adadad" stroke-width="2.5" fill="none"/>
<text y="489" font-size="10" fill="#585c5f"><tspan x="31.2">EMA</tspan><tspan x="57">[100,</tspan><tspan x="84">0]</tspan><tspan x="96.4">1.16368</tspan></text>
<rect x="6" y="492.2" width="10.1" height="1.9" fill="#bababa"/>
<rect x="6" y="495.3" width="10.1" height="2.4" fill="#bababa"/>
<rect x="6" y="499.1" width="10.1" height="1.9" fill="#bababa"/>
<rect x="11" y="496.0" width="4" height="1" fill="#ececec"/>
<rect x="14" y="492.2" width="1" height="1" fill="#e4e4e4"/>
<rect x="14" y="500.0" width="1" height="1" fill="#e4e4e4"/>
<path d="M20.80 493.65L27.30 500.15M27.30 493.65L20.80 500.15" stroke="#adadad" stroke-width="2.5" fill="none"/>
<text y="502.5" font-size="10" fill="#585c5f"><tspan x="31.2">EMA</tspan><tspan x="57">[30,</tspan><tspan x="78.3">0]</tspan><tspan x="90.7">1.16545</tspan></text>
<rect x="6" y="560.2" width="10.1" height="1.9" fill="#bababa"/>
<rect x="6" y="563.3" width="10.1" height="2.4" fill="#bababa"/>
<rect x="6" y="567.1" width="10.1" height="1.9" fill="#bababa"/>
<rect x="11" y="564.0" width="4" height="1" fill="#ececec"/>
<rect x="14" y="560.2" width="1" height="1" fill="#e4e4e4"/>
<rect x="14" y="568.0" width="1" height="1" fill="#e4e4e4"/>
<path d="M20.80 561.65L27.30 568.15M27.30 561.65L20.80 568.15" stroke="#adadad" stroke-width="2.5" fill="none"/>
<text y="570.8" font-size="10" fill="#6d7073"><tspan x="31.2">RSI</tspan><tspan x="51">[14]</tspan><tspan x="72.5">72.4</tspan></text>
<rect x="6" y="609.0" width="10.1" height="1.9" fill="#bababa"/>
<rect x="6" y="612.1" width="10.1" height="2.4" fill="#bababa"/>
<rect x="6" y="615.9" width="10.1" height="1.9" fill="#bababa"/>
<rect x="11" y="612.8" width="4" height="1" fill="#ececec"/>
<rect x="14" y="609.0" width="1" height="1" fill="#e4e4e4"/>
<rect x="14" y="616.8" width="1" height="1" fill="#e4e4e4"/>
<path d="M20.80 610.45L27.30 616.95M27.30 610.45L20.80 616.95" stroke="#adadad" stroke-width="2.5" fill="none"/>
<text y="619" font-size="10" fill="#6d7073" fill-opacity="0.85"><tspan x="31.2">Volume</tspan><tspan x="71.2">(real)</tspan></text>
</svg>
</body></html>
